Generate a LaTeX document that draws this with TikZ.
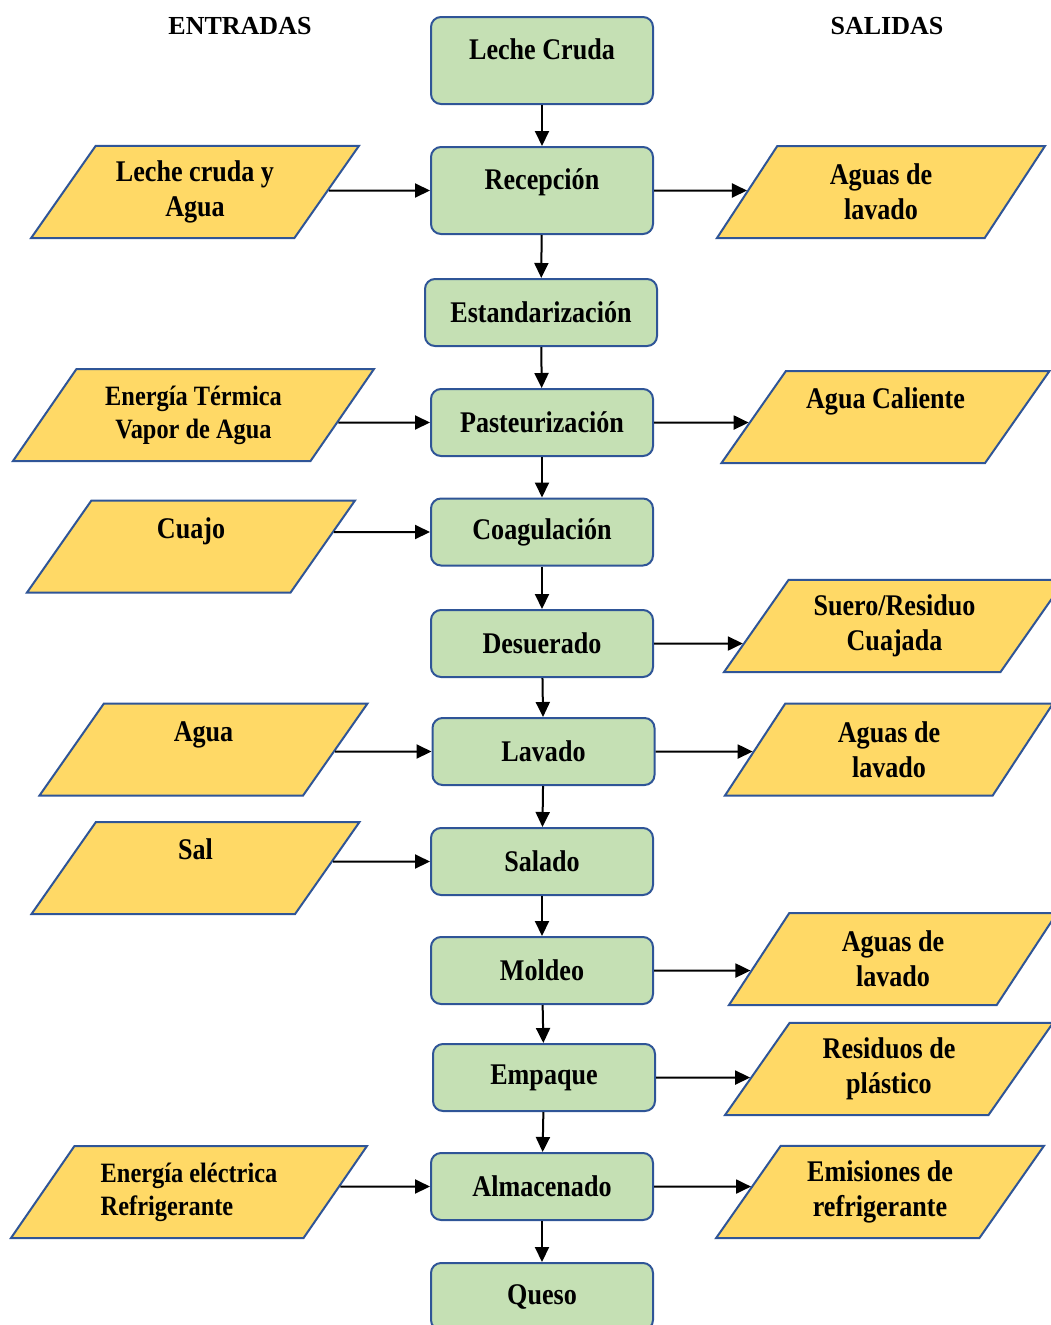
\documentclass[tikz,border=0pt]{standalone}
\usepackage{fontspec}
\setmainfont{Liberation Serif}[FakeStretch=0.87]
\newfontfamily\headfont{Liberation Serif}
\usetikzlibrary{arrows.meta, shapes.geometric}

\definecolor{procgreen}{HTML}{C5E0B4}
\definecolor{inoutyellow}{HTML}{FFD966}
\definecolor{edgeblue}{HTML}{2F5597}

\begin{document}
\begin{tikzpicture}[
    x=1pt, y=-1pt,
    every node/.style={font=\bfseries\fontsize{30}{35}\selectfont, align=center},
    procbox/.style={draw=edgeblue, fill=procgreen, line width=2pt, rounded corners=10pt, minimum width=222pt, minimum height=67pt},
    tallbox/.style={procbox, minimum height=87pt, text height=20pt, text depth=23pt},
    databox/.style={trapezium, trapezium left angle=55, trapezium right angle=125, trapezium stretches body, draw=edgeblue, fill=inoutyellow, line width=2pt, inner ysep=15pt, minimum width=328pt, minimum height=92pt},
    oneline/.style={text height=20pt, text depth=37pt, inner ysep=17.5pt},
    smalltext/.style={font=\bfseries\fontsize{28}{33}\selectfont, inner ysep=16pt},
    header/.style={font=\headfont\bfseries\fontsize{26}{30}\selectfont},
    >={Triangle[length=15pt, width=14pt]}, % Arrow style
    flow/.style={->, line width=2pt}
]
\clip (0,0) rectangle (1051,1325);

% Headers
\node[header] (entradas) at (240,26) {ENTRADAS};
\node[header] (salidas) at (887,26) {SALIDAS};

% Process
\node[tallbox] (leche) at (542,60.5) {Leche Cruda};
\node[tallbox] (recep) at (542,190.5) {Recepción};
\node[procbox, minimum width=232pt] (estan) at (541,312.5) {Estandarización};
\node[procbox] (paste) at (542,422.5) {Pasteurización};
\node[procbox] (coag) at (542,532) {Coagulación};
\node[procbox] (desu) at (542,643.5) {Desuerado};
\node[procbox] (lava) at (543.5,751.5) {Lavado};
\node[procbox] (sala) at (542,861.5) {Salado};
\node[procbox] (molde) at (542,970.5) {Moldeo};
\node[procbox] (empa) at (544,1077.5) {Empaque};
\node[procbox] (alma) at (542,1186.5) {Almacenado};
\node[procbox] (queso) at (542,1296.5) {Queso};

% Inputs
\node[databox] (lcy) at (195,192) {Leche cruda y\\Agua};
\node[databox, smalltext, minimum width=361pt] (termica) at (193.5,415) {Energía Térmica\\Vapor de Agua};
\node[databox, oneline] (cuajo) at (191,546.5) {Cuajo};
\node[databox, oneline] (agua) at (203.5,749.5) {Agua};
\node[databox, oneline] (sal) at (195.5,868) {Sal};
\node[databox, smalltext, align=left, minimum width=356pt] (electr) at (189,1192) {Energía eléctrica\\Refrigerante};

% Outputs
\node[databox] (aguasa) at (881,192) {Aguas de\\lavado};
\node[databox, oneline] (caliente) at (885.5,417) {Agua Caliente};
\node[databox, minimum width=341pt] (suero) at (894.5,626) {Suero/Residuo\\Cuajada};
\node[databox] (aguasb) at (889,749.5) {Aguas de\\lavado};
\node[databox] (aguasc) at (893,959) {Aguas de\\lavado};
\node[databox] (resid) at (889,1069) {Residuos de\\plástico};
\node[databox] (emis) at (880,1192) {Emisiones de\\refrigerante};

% Arrows
\draw[flow] (leche) -- (recep);
\draw[flow] (recep) -- (estan);
\draw[flow] (estan) -- (paste);
\draw[flow] (paste) -- (coag);
\draw[flow] (coag) -- (desu);
\draw[flow] (desu) -- (lava);
\draw[flow] (lava) -- (sala);
\draw[flow] (sala) -- (molde);
\draw[flow] (molde) -- (empa);
\draw[flow] (empa) -- (alma);
\draw[flow] (alma) -- (queso);

\draw[flow] (intersection of lcy.top right corner--lcy.bottom right corner and recep.west--recep.east) -- (recep.west);
\draw[flow] (intersection of termica.top right corner--termica.bottom right corner and paste.west--paste.east) -- (paste.west);
\draw[flow] (intersection of cuajo.top right corner--cuajo.bottom right corner and coag.west--coag.east) -- (coag.west);
\draw[flow] (intersection of agua.top right corner--agua.bottom right corner and lava.west--lava.east) -- (lava.west);
\draw[flow] (intersection of sal.top right corner--sal.bottom right corner and sala.west--sala.east) -- (sala.west);
\draw[flow] (intersection of electr.top right corner--electr.bottom right corner and alma.west--alma.east) -- (alma.west);

\draw[flow] (recep.east) -- (intersection of recep.west--recep.east and aguasa.top left corner--aguasa.bottom left corner);
\draw[flow] (paste.east) -- (intersection of paste.west--paste.east and caliente.top left corner--caliente.bottom left corner);
\draw[flow] (desu.east) -- (intersection of desu.west--desu.east and suero.top left corner--suero.bottom left corner);
\draw[flow] (lava.east) -- (intersection of lava.west--lava.east and aguasb.top left corner--aguasb.bottom left corner);
\draw[flow] (molde.east) -- (intersection of molde.west--molde.east and aguasc.top left corner--aguasc.bottom left corner);
\draw[flow] (empa.east) -- (intersection of empa.west--empa.east and resid.top left corner--resid.bottom left corner);
\draw[flow] (alma.east) -- (intersection of alma.west--alma.east and emis.top left corner--emis.bottom left corner);

\end{tikzpicture}
\end{document}
